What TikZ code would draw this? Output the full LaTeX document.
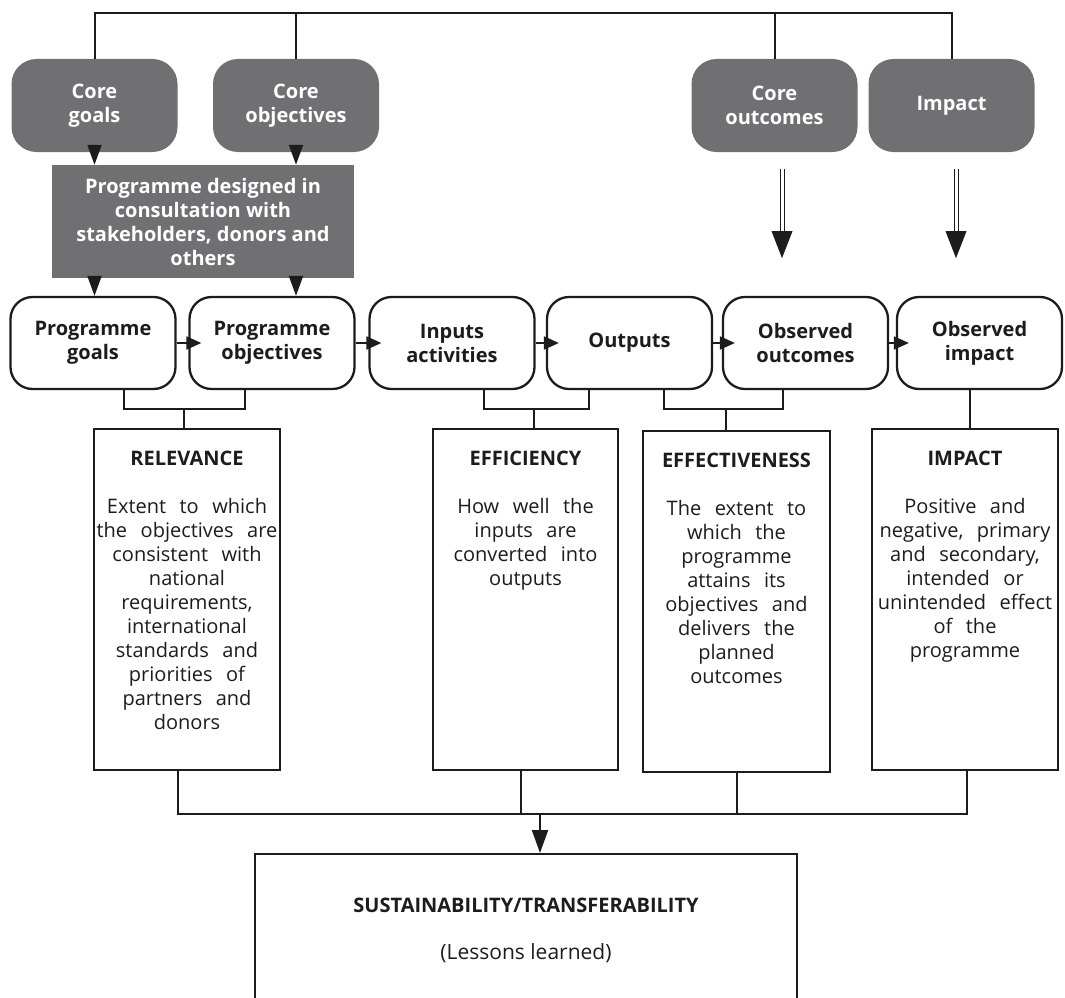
\documentclass[tikz,border=0pt]{standalone}
\usepackage{fontspec}
\setmainfont{Open Sans}
\newfontfamily\bodyfont{Open Sans}[WordSpace=2.6]
\usepackage{tikz}
\usetikzlibrary{arrows.meta,calc}
\definecolor{coregrey}{RGB}{112,112,114}
\definecolor{inkblack}{RGB}{30,27,28}
\newcommand\diagfont{\fontsize{20}{24}\selectfont}
\newcommand\critext[4]{\parbox[c][#1][t]{#2}{\centering\diagfont\vspace*{22pt}\textbf{#3}\\[24pt]{\bodyfont #4}}}

\tikzset{
  corebox/.style={fill=coregrey, rounded corners=25pt, minimum width=166pt, minimum height=93pt,
    text=white, font=\diagfont\bfseries, align=center, inner sep=0},
  designbox/.style={fill=coregrey, minimum width=302pt, minimum height=113pt,
    text=white, font=\diagfont\bfseries, align=center, inner sep=0},
  stagebox/.style={draw=inkblack, line width=2.3pt, rounded corners=22pt, minimum width=165pt,
    minimum height=92pt, font=\diagfont\bfseries, align=center, inner sep=0},
  critbox/.style={draw=inkblack, line width=2.3pt, inner sep=0, anchor=north},
  link/.style={draw=inkblack, line width=2pt},
  dnarrow/.style={link, -{Triangle[length=20pt,width=14pt]}},
  rowarrow/.style={link, -{Triangle[length=15pt,width=13pt]}, shorten >=-13pt},
  dbl/.style={draw=inkblack, line width=1pt, double=white, double distance=3pt}
}

\begin{document}
\begin{tikzpicture}[x=1pt,y=-1pt,inkblack]
\useasboundingbox (0,0) rectangle (1065,998);
\clip (0,0) rectangle (1065,998);

\node[corebox] (cgoals) at (94.5,105.5) {Core\\goals};
\node[corebox] (cobj) at (296,105.5) {Core\\objectives};
\node[corebox] (cout) at (774.5,105.5) {Core\\outcomes};
\node[corebox] (cimp) at (951.5,105.5) {Impact};
\node[designbox] (design) at (203,221.5) {Programme designed in\\consultation with\\stakeholders, donors and\\others};

\node[stagebox] (pgoals) at (93,343) {Programme\\goals};
\node[stagebox] (pobj) at (272,343) {Programme\\objectives};
\node[stagebox] (pinp) at (452,343) {Inputs\\activities};
\node[stagebox] (pout) at (629.5,343) {Outputs};
\node[stagebox] (pobsout) at (805.5,343) {Observed\\outcomes};
\node[stagebox] (pobsimp) at (979.5,343) {Observed\\impact};

\node[critbox] (rel) at (187,428) {\critext{341pt}{186pt}{RELEVANCE}{Extent to which\\the objectives are\\consistent with\\national\\requirements,\\international\\standards and\\priorities of\\partners and\\donors}};
\node[critbox] (eff) at (525.5,428) {\critext{341pt}{185pt}{EFFICIENCY}{How well the\\inputs are\\converted into\\outputs}};
\node[critbox] (effv) at (736.5,430) {\critext{341pt}{187pt}{EFFECTIVENESS}{The extent to\\which the\\programme\\attains its\\objectives and\\delivers the\\planned\\outcomes}};
\node[critbox] (imp) at (965,428) {\critext{341pt}{186pt}{IMPACT}{Positive and\\negative, primary\\and secondary,\\intended or\\unintended effect\\of the\\programme}};

\node[critbox] (sust) at (526,853) {\parbox[c][200pt][t]{542pt}{\centering\fontsize{20}{24}\selectfont\vspace*{44pt}\textbf{SUSTAINABILITY/TRANSFERABILITY}\\[23pt]{\fontsize{21}{24}\selectfont(Lessons learned)}}};

\coordinate (topbar) at (0,13);
\draw[link] (cgoals.north) |- (topbar -| cimp.north) -- (cimp.north);
\draw[link] (cobj.north) -- (cobj.north |- topbar);
\draw[link] (cout.north) -- (cout.north |- topbar);

\draw[dnarrow] (cgoals.south) -- (cgoals.south |- design.north);
\draw[dnarrow] (cobj.south) -- (cobj.south |- design.north);
\draw[dnarrow] (design.south -| cgoals.south) -- (pgoals.north -| cgoals.south);
\draw[dnarrow] (design.south -| cobj.south) -- (pobj.north -| cobj.south);

\draw[dbl] ([xshift=7.5pt,yshift=-17pt]cout.south) -- ++(0,63);
\fill ([xshift=7.5pt,yshift=-106pt]cout.south) -- ++(-10.5,-27) -- ++(21,0) -- cycle;
\draw[dbl] ([xshift=4.5pt,yshift=-17pt]cimp.south) -- ++(0,63);
\fill ([xshift=4.5pt,yshift=-106pt]cimp.south) -- ++(-10.5,-27) -- ++(21,0) -- cycle;

\draw[rowarrow] (pgoals) -- (pobj);
\draw[rowarrow] (pobj) -- (pinp);
\draw[rowarrow] (pinp) -- (pout);
\draw[rowarrow] (pout) -- (pobsout);
\draw[rowarrow] (pobsout) -- (pobsimp);

\draw[link] ([xshift=31pt]pgoals.south) -- ++(0,19) -| ([xshift=-27pt]pobj.south);
\draw[link] ([xshift=-3pt]rel.north) -- ++(0,-20);
\draw[link] ([xshift=32pt]pinp.south) -- ++(0,19) -| ([xshift=-40.5pt]pout.south);
\draw[link] ([xshift=8.5pt]eff.north) -- ++(0,-20);
\draw[link] ([xshift=34.5pt]pout.south) -- ++(0,19) -| ([xshift=-22.5pt]pobsout.south);
\draw[link] ([xshift=-10.5pt]effv.north) -- ++(0,-22);
\draw[link] ([xshift=-9.5pt]pobsimp.south) -- ([xshift=-9.5pt]pobsimp.south |- imp.north);

\coordinate (join) at (540,814);
\draw[link] ([xshift=-9pt]rel.south) |- ([xshift=2pt]imp.south |- join) -- ([xshift=2pt]imp.south);
\draw[link] ([xshift=-4.5pt]eff.south) -- ([xshift=-4.5pt]eff.south |- join);
\draw[link] (effv.south) -- (effv.south |- join);
\draw[link,-{Triangle[length=23pt,width=16pt]}] (join) -- (join |- sust.north);
\end{tikzpicture}
\end{document}
